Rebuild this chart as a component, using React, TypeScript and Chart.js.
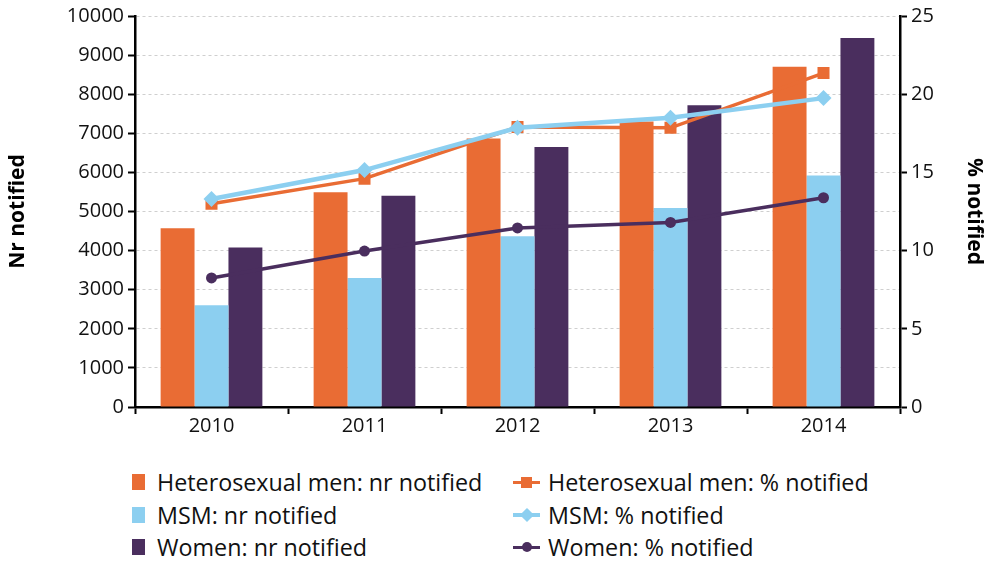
import React, { useEffect, useRef } from "react";
import { Chart, registerables } from "chart.js";

Chart.register(...registerables);

const years = ["2010", "2011", "2012", "2013", "2014"];
const hetNr = [4570, 5490, 6870, 7300, 8700];
const msmNr = [2600, 3300, 4370, 5090, 5920];
const womenNr = [4080, 5400, 6650, 7720, 9440];
const hetPct = [13.0, 14.6, 17.9, 17.85, 21.35];
const msmPct = [13.3, 15.15, 17.85, 18.5, 19.75];
const womenPct = [8.25, 9.97, 11.45, 11.8, 13.38];

const ORANGE = "#E96C34";
const BLUE = "#8CCFF0";
const PURPLE = "#4A2E5E";
const FONT = "'Open Sans', 'DejaVu Sans', sans-serif";
const TEXT = "#111111";

type LegendItem = { label: string; color: string; kind: "bar" | "rect" | "diamond" | "circle" };

const legendCol1: LegendItem[] = [
  { label: "Heterosexual men: nr notified", color: ORANGE, kind: "bar" },
  { label: "MSM: nr notified", color: BLUE, kind: "bar" },
  { label: "Women: nr notified", color: PURPLE, kind: "bar" },
];
const legendCol2: LegendItem[] = [
  { label: "Heterosexual men: % notified", color: ORANGE, kind: "rect" },
  { label: "MSM: % notified", color: BLUE, kind: "diamond" },
  { label: "Women: % notified", color: PURPLE, kind: "circle" },
];

function Marker({ item }: { item: LegendItem }) {
  if (item.kind === "bar") {
    return (
      <div style={{ width: 13, height: 16, background: item.color, flex: "0 0 auto", marginRight: 12 }} />
    );
  }
  let shape: React.CSSProperties = {};
  if (item.kind === "rect") shape = { width: 11, height: 11 };
  if (item.kind === "diamond") shape = { width: 10, height: 10, transform: "rotate(45deg)" };
  if (item.kind === "circle") shape = { width: 10, height: 10, borderRadius: "50%" };
  return (
    <div style={{ position: "relative", width: 27, height: 16, flex: "0 0 auto", marginRight: 8 }}>
      <div style={{ position: "absolute", left: 0, right: 0, top: 6.5, height: 3.5, background: item.color }} />
      <div
        style={{
          position: "absolute",
          left: "50%",
          top: "50%",
          marginLeft: -(shape.width as number) / 2,
          marginTop: -(shape.height as number) / 2,
          background: item.color,
          ...shape,
        }}
      />
    </div>
  );
}

function LegendColumn({ items, left }: { items: LegendItem[]; left: number }) {
  return (
    <div style={{ position: "absolute", left, top: 466 }}>
      {items.map((it) => (
        <div
          key={it.label}
          style={{
            display: "flex",
            alignItems: "center",
            height: 32.5,
            fontFamily: FONT,
            fontSize: 23.3,
            color: TEXT,
            whiteSpace: "nowrap",
          }}
        >
          <Marker item={it} />
          <span>{it.label}</span>
        </div>
      ))}
    </div>
  );
}

export default function App() {
  const ref = useRef<HTMLCanvasElement | null>(null);

  useEffect(() => {
    if (!ref.current) return;
    const tickFont = { family: FONT, size: 20 };
    const plain = (v: any) => String(v);
    const chart = new Chart(ref.current, {
      type: "bar",
      data: {
        labels: years,
        datasets: [
          {
            type: "line",
            label: "MSM: % notified",
            data: msmPct,
            yAxisID: "y1",
            borderColor: BLUE,
            backgroundColor: BLUE,
            borderWidth: 4.5,
            pointStyle: "rectRot",
            pointRadius: 8,
            pointBorderWidth: 0,
            order: 0,
          },
          {
            type: "line",
            label: "Heterosexual men: % notified",
            data: hetPct,
            yAxisID: "y1",
            borderColor: ORANGE,
            backgroundColor: ORANGE,
            borderWidth: 3.5,
            pointStyle: "rect",
            pointRadius: 8.5,
            pointBorderWidth: 0,
            order: 1,
          },
          {
            type: "line",
            label: "Women: % notified",
            data: womenPct,
            yAxisID: "y1",
            borderColor: PURPLE,
            backgroundColor: PURPLE,
            borderWidth: 3.5,
            pointStyle: "circle",
            pointRadius: 5.5,
            pointBorderWidth: 0,
            order: 2,
          },
          {
            type: "bar",
            label: "Heterosexual men: nr notified",
            data: hetNr,
            yAxisID: "y",
            backgroundColor: ORANGE,
            categoryPercentage: 0.665,
            barPercentage: 1,
            order: 3,
          },
          {
            type: "bar",
            label: "MSM: nr notified",
            data: msmNr,
            yAxisID: "y",
            backgroundColor: BLUE,
            categoryPercentage: 0.665,
            barPercentage: 1,
            order: 4,
          },
          {
            type: "bar",
            label: "Women: nr notified",
            data: womenNr,
            yAxisID: "y",
            backgroundColor: PURPLE,
            categoryPercentage: 0.665,
            barPercentage: 1,
            order: 5,
          },
        ],
      },
      options: {
        responsive: false,
        animation: false,
        devicePixelRatio: 1,
        layout: { padding: { top: 15, left: 0, right: 0, bottom: 0 } },
        plugins: { legend: { display: false }, tooltip: { enabled: false } },
        scales: {
          x: {
            offset: true,
            grid: {
              display: true,
              offset: true,
              drawOnChartArea: false,
              drawTicks: true,
              tickLength: 7,
              tickColor: "#000",
              tickWidth: 2,
            },
            border: { color: "#000", width: 2.5 },
            ticks: { color: TEXT, font: tickFont, padding: 0 },
            afterFit: (s: any) => {
              s.height = 33;
            },
          },
          y: {
            position: "left",
            min: 0,
            max: 10000,
            ticks: { stepSize: 1000, color: TEXT, font: tickFont, padding: 4, callback: plain },
            grid: {
              color: "#cfcfcf",
              lineWidth: 1,
              tickColor: "#000",
              tickLength: 7,
              tickWidth: 2,
            },
            border: { color: "#000", width: 2.5, dash: [3, 3] },
            title: {
              display: true,
              text: "Nr notified",
              color: "#000",
              font: { family: FONT, size: 21, weight: "bold" },
              padding: { top: 5, bottom: 0 },
            },
            afterFit: (s: any) => {
              s.width = 135;
            },
          },
          y1: {
            position: "right",
            min: 0,
            max: 25,
            ticks: { stepSize: 5, color: TEXT, font: tickFont, padding: 4, callback: plain },
            grid: {
              drawOnChartArea: false,
              tickColor: "#000",
              tickLength: 7,
              tickWidth: 2,
            },
            border: { color: "#000", width: 2.5 },
            title: {
              display: true,
              text: "% notified",
              color: "#000",
              font: { family: FONT, size: 21, weight: "bold" },
              padding: { top: 5, bottom: 0 },
            },
            afterFit: (s: any) => {
              s.width = 92;
            },
          },
        },
      },
    } as any);
    return () => chart.destroy();
  }, []);

  return (
    <div style={{ position: "absolute", left: 0, top: 0, width: 992, height: 561, background: "#fff", overflow: "hidden" }}>
      <canvas ref={ref} width={992} height={440} style={{ display: "block", width: 992, height: 440 }} />
      <LegendColumn items={legendCol1} left={132} />
      <LegendColumn items={legendCol2} left={513} />
    </div>
  );
}
